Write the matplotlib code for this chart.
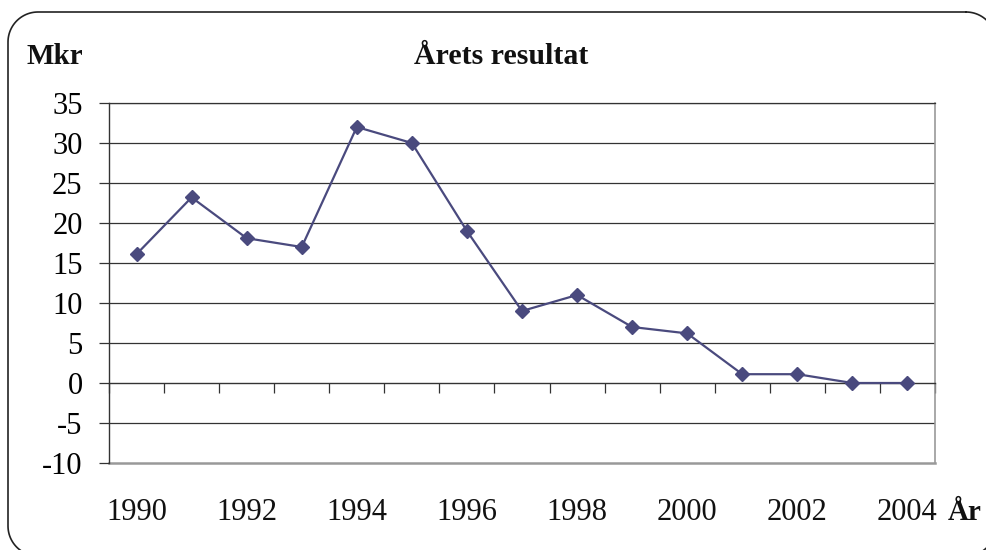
import matplotlib
matplotlib.use("Agg")
import numpy as np
import matplotlib.pyplot as plt
import matplotlib.transforms as mtransforms

years = [1990, 1991, 1992, 1993, 1994, 1995, 1996, 1997, 1998, 1999,
         2000, 2001, 2002, 2003, 2004]
values = [16.1, 23.2, 18.1, 17.0, 32.0, 30.0, 19.0, 9.0, 11.0, 7.0,
          6.2, 1.1, 1.1, 0.0, 0.0]
yticks = [-10, -5, 0, 5, 10, 15, 20, 25, 30, 35]
title = "Årets resultat"
ylabel = "Mkr"
xlabel = "År"

plt.rcParams['font.family'] = ['Liberation Serif', 'DejaVu Serif']

W, H = 986, 550
fig = plt.figure(figsize=(W / 100, H / 100), dpi=100)

# background axes in pixel units (y measured from the top) for the rounded frame
bg = fig.add_axes([0, 0, 1, 1])
bg.set_xlim(0, W)
bg.set_ylim(H, 0)
bg.axis('off')


def rounded_rect(x0, y0, x1, y1, r, n=24):
    xs, ys = [], []
    corners = [((x1 - r, y0 + r), -90, 0), ((x1 - r, y1 - r), 0, 90),
               ((x0 + r, y1 - r), 90, 180), ((x0 + r, y0 + r), 180, 270)]
    for (cx, cy), a0, a1 in corners:
        t = np.radians(np.linspace(a0, a1, n))
        xs.extend(cx + r * np.cos(t))
        ys.extend(cy + r * np.sin(t))
    xs.append(xs[0])
    ys.append(ys[0])
    return xs, ys


fxs, fys = rounded_rect(8, 12, 996, 556, 30)
bg.plot(fxs, fys, color='#222222', linewidth=1.2, clip_on=False)

left, right, top, bottom = 109, 935, 103, 463
ax = fig.add_axes([left / W, (H - bottom) / H, (right - left) / W, (bottom - top) / H])

x = list(range(len(years)))
ax.plot(x, values, color='#4a4a7e', linewidth=1.6, marker='D',
        markersize=7.2, markerfacecolor='#4a4a7e', markeredgecolor='#4a4a7e',
        zorder=5, clip_on=False)

ax.set_xlim(-0.5, len(years) - 0.5)
ax.set_ylim(yticks[0], yticks[-1])
ax.set_yticks(yticks)
ax.set_yticklabels([str(v) for v in yticks], fontsize=22)
ax.tick_params(axis='y', direction='out', length=7, width=0.9, color='#333333', pad=12)

# horizontal gridlines
for v in yticks:
    if v not in (0, yticks[0]):
        ax.axhline(v, color='#333333', linewidth=0.9, zorder=1)

# category axis crossing at zero
ax.spines['bottom'].set_position(('data', 0))
ax.spines['bottom'].set_color('#333333')
ax.spines['bottom'].set_linewidth(1.0)
ax.set_xticks([i - 0.5 for i in range(len(years) + 1)])
ax.set_xticklabels([])
ax.tick_params(axis='x', direction='out', length=7, width=0.9, color='#333333')

ax.spines['left'].set_color('#333333')
ax.spines['left'].set_linewidth(1.0)
ax.spines['right'].set_color('#999999')
ax.spines['right'].set_linewidth(1.2)
ax.spines['top'].set_color('#333333')
ax.spines['top'].set_linewidth(0.9)
ax.axhline(yticks[0], color='#999999', linewidth=1.8, zorder=1, clip_on=False)

# year labels at the bottom (every other year)
trans = mtransforms.blended_transform_factory(ax.transData, fig.transFigure)
for i, yr in enumerate(years):
    if i % 2 == 0:
        ax.text(i, (H - 512) / H, str(yr), transform=trans, ha='center',
                va='center', fontsize=22, color='#111111')

fig.text((948 + 981) / 2 / W, (H - 512) / H, xlabel, ha='center', va='center',
         fontsize=21, fontweight='bold', color='#111111')
fig.text(55 / W, (H - 56) / H, ylabel, ha='center', va='center',
         fontsize=21, fontweight='bold', color='#111111')
fig.text(501 / W, (H - 56) / H, title, ha='center', va='center',
         fontsize=21.5, fontweight='bold', color='#111111')

fig.savefig("out.png", dpi=100)
